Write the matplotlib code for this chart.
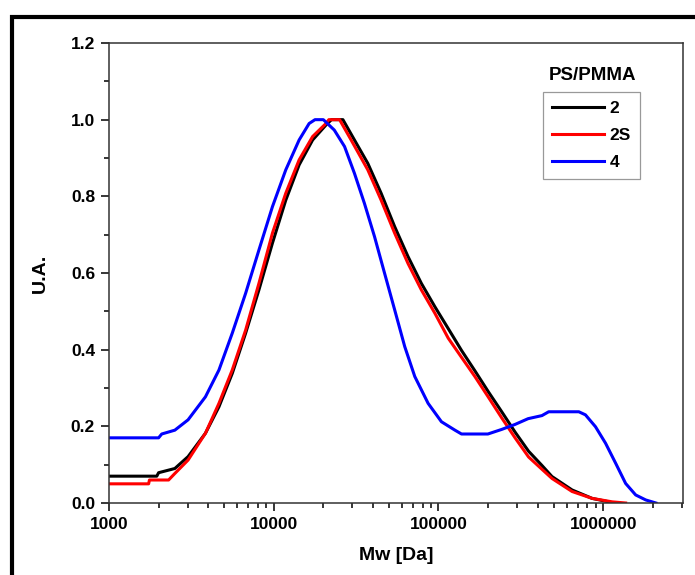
import matplotlib
matplotlib.use("Agg")
import matplotlib.pyplot as plt
from matplotlib.lines import Line2D
from matplotlib.ticker import FixedLocator, FixedFormatter, LogLocator, NullFormatter, MultipleLocator

plt.rcParams['font.family'] = ['Liberation Sans', 'DejaVu Sans']
plt.rcParams['font.weight'] = 'bold'

# GPC traces (Mw in Da, normalised signal)
mw_2 = [1000, 1950, 2000, 2510, 3020, 3850, 4650, 5600, 6750, 8130, 9820,
        11830, 14260, 17220, 20750, 22400, 26300, 30900, 37240, 44870, 54200,
        65300, 78700, 95100, 114600, 138000, 166300, 200900, 242100, 291700,
        352400, 424600, 488700, 647100, 857000, 1084000, 1122000]
ua_2 = [0.07, 0.07, 0.079, 0.09, 0.121, 0.182, 0.251, 0.338, 0.443, 0.556, 0.678,
        0.79, 0.882, 0.947, 0.986, 1.0, 1.0, 0.947, 0.886, 0.808, 0.721,
        0.643, 0.573, 0.512, 0.455, 0.398, 0.345, 0.29, 0.238, 0.185,
        0.135, 0.098, 0.069, 0.034, 0.012, 0.003, 0.0]

mw_2s = [1000, 1740, 1760, 2300, 2510, 3020, 3850, 4650, 5600, 6750, 8130, 9820,
         11830, 14260, 17220, 20750, 21600, 25100, 29500, 37240, 44870, 54200,
         65300, 78700, 95100, 114600, 138000, 166300, 200900, 242100, 291700,
         352400, 424600, 488700, 647100, 857000, 1135000, 1368000]
ua_2s = [0.05, 0.05, 0.06, 0.06, 0.077, 0.112, 0.182, 0.26, 0.347, 0.451, 0.573, 0.704,
         0.808, 0.895, 0.956, 0.99, 1.0, 1.0, 0.947, 0.869, 0.79, 0.704,
         0.625, 0.556, 0.495, 0.43, 0.38, 0.33, 0.276, 0.222, 0.17,
         0.12, 0.088, 0.064, 0.03, 0.012, 0.003, 0.0]

mw_4 = [1000, 2000, 2090, 2510, 3020, 3850, 4650, 5600, 6750, 8130, 9820,
        11830, 14260, 16400, 17800, 20000, 23300, 26900, 30900, 35500, 40900,
        47100, 54200, 62400, 71800, 86500, 104200, 125900, 138000, 199500,
        242100, 291700, 350000, 424600, 466700, 711200, 780000, 897500,
        1033000, 1189000, 1368000, 1574000, 1811000, 2089000]
ua_4 = [0.17, 0.17, 0.18, 0.19, 0.217, 0.277, 0.347, 0.443, 0.547, 0.66, 0.773,
        0.869, 0.947, 0.99, 1.0, 1.0, 0.973, 0.93, 0.86, 0.782, 0.695,
        0.599, 0.504, 0.408, 0.33, 0.26, 0.212, 0.19, 0.18, 0.18,
        0.192, 0.205, 0.22, 0.228, 0.238, 0.238, 0.23, 0.199,
        0.156, 0.104, 0.051, 0.021, 0.008, 0.0]

series_labels = ['2', '2S', '4']
series_colors = ['#000000', '#ff0000', '#0000ff']

x_ticks = [1000, 10000, 100000, 1000000]
x_ticklabels = ['1000', '10000', '100000', '1000000']

W, H = 695, 575
fig = plt.figure(figsize=(W / 100, H / 100), dpi=100)
ax = fig.add_axes([109 / W, 1 - 503 / H, (683 - 109) / W, (503 - 43) / H])

for mw, ua, lab, col in zip([mw_2, mw_2s, mw_4], [ua_2, ua_2s, ua_4],
                            series_labels, series_colors):
    ax.plot(mw, ua, color=col, lw=2.2, label=lab)

ax.set_xscale('log')
ax.set_xlim(1000, 3.05e6)
ax.set_ylim(0, 1.2)

ax.xaxis.set_major_locator(FixedLocator(x_ticks))
ax.xaxis.set_major_formatter(FixedFormatter(x_ticklabels))
ax.xaxis.set_minor_locator(LogLocator(base=10, subs=range(2, 10)))
ax.xaxis.set_minor_formatter(NullFormatter())
ax.yaxis.set_major_locator(MultipleLocator(0.2))
ax.yaxis.set_minor_locator(MultipleLocator(0.1))
ax.yaxis.set_major_formatter(plt.FuncFormatter(lambda v, p: f"{v:.1f}"))

ax.tick_params(which='major', direction='out', length=6, width=1.1,
               labelsize=12.5, pad=4)
ax.tick_params(which='minor', direction='out', length=3.5, width=1.1)
ax.tick_params(top=False, right=False, which='both')
for lbl in ax.get_xticklabels() + ax.get_yticklabels():
    lbl.set_fontweight('bold')
for s in ax.spines.values():
    s.set_linewidth(1.1)
    s.set_color('#333333')

ax.set_xlabel('Mw [Da]', fontsize=14, fontweight='bold', labelpad=11)
ax.set_ylabel('U.A.', fontsize=14, fontweight='bold', labelpad=16)

leg = ax.legend(loc='upper left', bbox_to_anchor=(543 / W, 1 - 92 / H),
                bbox_transform=fig.transFigure, borderaxespad=0,
                fancybox=False, edgecolor='#999999', framealpha=1,
                prop={'size': 12.5, 'weight': 'bold'}, handlelength=3.0,
                handletextpad=0.35, labelspacing=0.7, borderpad=0.5)
leg.get_frame().set_linewidth(0.9)
fig.text(592 / W, 1 - 75 / H, 'PS/PMMA', ha='center', va='center',
         fontsize=13.5, fontweight='bold')

# thick outer frame (cut off at right and bottom in the original)
fig.add_artist(Line2D([12 / W, 12 / W, 1.0], [0.0, 1 - 17 / H, 1 - 17 / H],
                      transform=fig.transFigure, color='black', lw=3,
                      solid_joinstyle='miter'))

fig.savefig('out.png', dpi=100)
